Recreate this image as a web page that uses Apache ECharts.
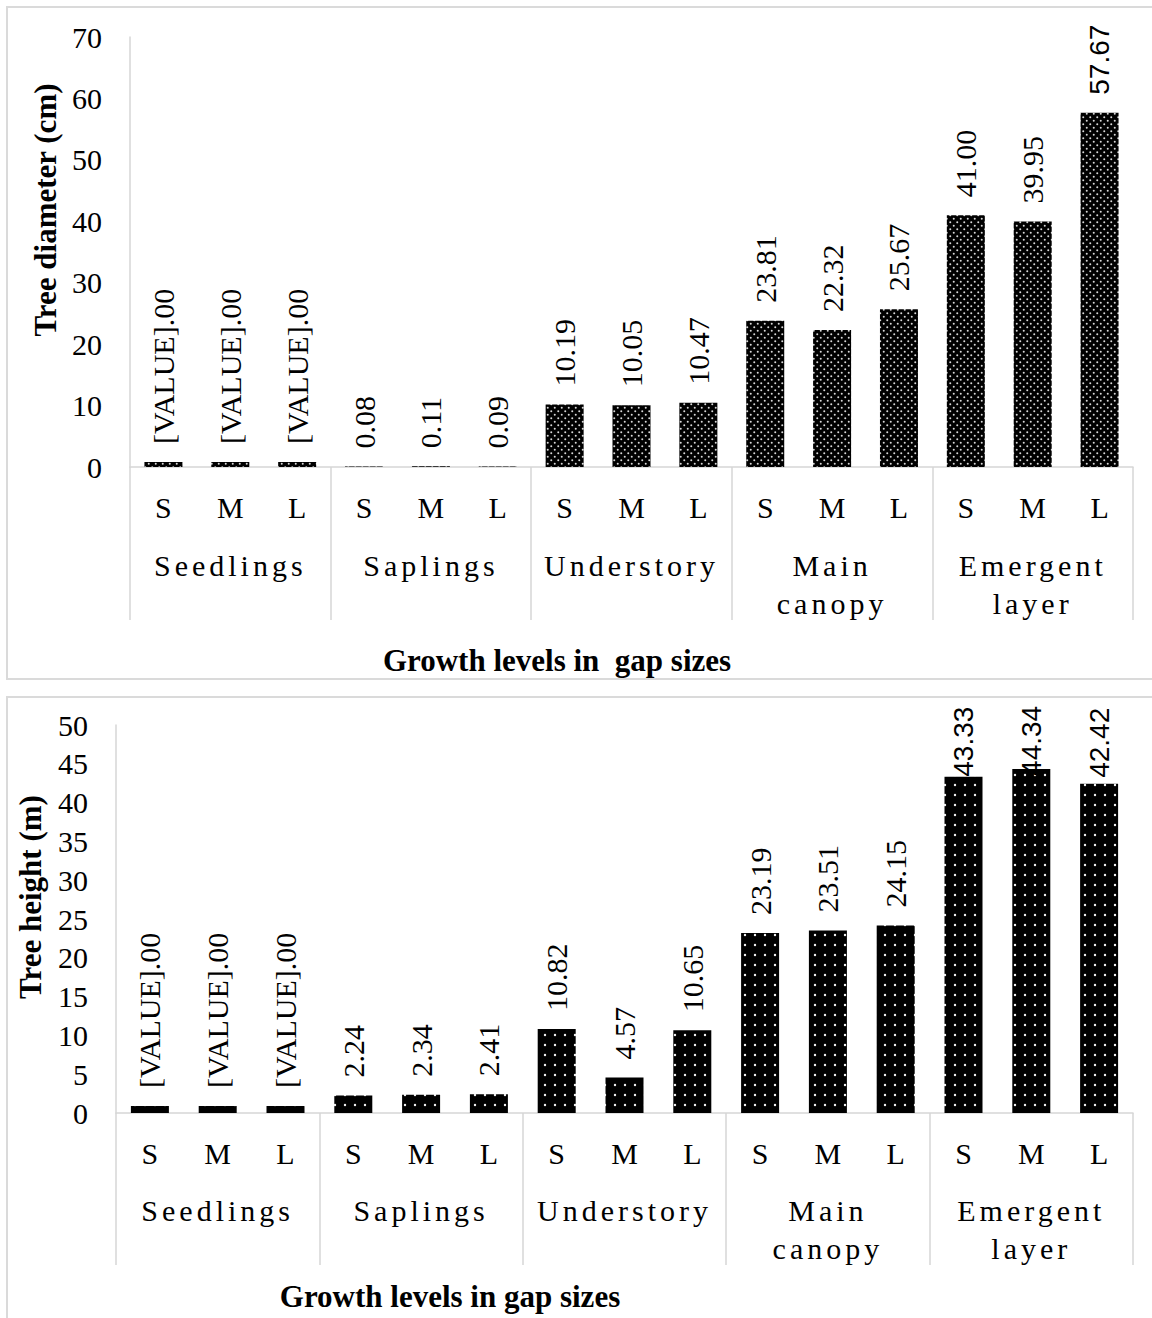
<!DOCTYPE html>
<html>
<head>
<meta charset="utf-8">
<script src="https://cdn.jsdelivr.net/npm/echarts@6/dist/echarts.min.js"></script>
<style>
  html, body { margin: 0; padding: 0; background: #fff; }
  #chart { width: 1152px; height: 1318px; }
</style>
</head>
<body>
<div id="chart"></div>
<script>
// Growth levels (outer categories) and gap sizes (inner categories)
const groups = ['Seedlings', 'Saplings', 'Understory', 'Main\ncanopy', 'Emergent\nlayer'];
const gapSizes = ['S', 'M', 'L'];

// Mean tree diameter (cm), in order S, M, L for each growth level
const diameterValues = [0.8, 0.8, 0.8, 0.08, 0.11, 0.09, 10.19, 10.05, 10.47, 23.81, 22.32, 25.67, 41.00, 39.95, 57.67];
// Mean tree height (m), same order
const heightValues = [0.9, 0.9, 0.9, 2.24, 2.34, 2.41, 10.82, 4.57, 10.65, 23.19, 23.51, 24.15, 43.33, 44.34, 42.42];

// Text printed above the seedling bars (an unresolved field code)
const seedlingLabel = '[VALUE].00';

// Value axis ranges
const diameterAxis = { min: 0, max: 70, interval: 10 };
const heightAxis = { min: 0, max: 50, interval: 5 };

// Axis titles
const diameterTitle = 'Tree diameter (cm)';
const heightTitle = 'Tree height (m)';
const xTitleTop = 'Growth levels in  gap sizes';
const xTitleBottom = 'Growth levels in gap sizes';

const SERIF = '"Liberation Serif", "Times New Roman", serif';
const SANS = '"Liberation Sans", Arial, sans-serif';
const GRID_LINE = '#d6d6d6';

const innerCats = groups.flatMap(() => gapSizes);

// black fill sprinkled with light dots
function dotTile(size, dots, r, color) {
  const c = document.createElement('canvas');
  c.width = size; c.height = size;
  const ctx = c.getContext('2d');
  ctx.fillStyle = '#000';
  ctx.fillRect(0, 0, size, size);
  ctx.fillStyle = color;
  dots.forEach(([x, y]) => { ctx.beginPath(); ctx.arc(x, y, r, 0, Math.PI * 2); ctx.fill(); });
  return { image: c, imageWidth: size, imageHeight: size, repeat: 'repeat' };
}
const densePattern = dotTile(7, [[1.75, 1.75], [5.25, 5.25]], 1.0, '#d8d8d8');
const sparsePattern = dotTile(10, [[5, 5]], 1.2, '#f0f0f0');

// per-bar label tweaks (font / offset)
const diameterLabelStyle = {
  14: { fontFamily: SANS, fontSize: 28 }
};
const heightLabelStyle = {
  12: { fontFamily: SANS, fontSize: 28, distance: 0 },
  13: { fontFamily: SANS, fontSize: 28, distance: -7 },
  14: { fontFamily: SANS, fontSize: 28, distance: 6 }
};

function barData(values, styles) {
  return values.map((v, i) => styles[i] ? { value: v, label: styles[i] } : { value: v });
}

function labelText(p) {
  return Math.floor(p.dataIndex / gapSizes.length) === 0 ? seedlingLabel : p.value.toFixed(2);
}

function xAxes(gridIndex, tickLen, groupMargin) {
  return [
    {
      gridIndex, type: 'category', position: 'bottom', data: innerCats,
      axisLine: { show: true, onZero: false, lineStyle: { color: GRID_LINE, width: 1.5 } },
      axisTick: { show: false },
      axisLabel: { interval: 0, margin: 25, fontFamily: SERIF, fontSize: 30, lineHeight: 30, color: '#000' }
    },
    {
      gridIndex, type: 'category', position: 'bottom', data: groups,
      axisLine: { show: false, onZero: false },
      axisTick: { show: true, interval: 0, length: tickLen, lineStyle: { color: GRID_LINE, width: 1.5 } },
      axisLabel: { interval: 0, margin: groupMargin, fontFamily: SERIF, fontSize: 30, lineHeight: 38, color: '#000' }
    }
  ];
}

function yAxis(gridIndex, range, name, gap, shift) {
  return {
    gridIndex, type: 'value', min: range.min, max: range.max, interval: range.interval,
    name, nameLocation: 'middle', nameGap: gap, nameRotate: 90,
    nameTextStyle: { fontFamily: SERIF, fontSize: 31, fontWeight: 'bold', color: '#000', padding: [0, 0, 0, shift] },
    axisLine: { show: true, lineStyle: { color: GRID_LINE, width: 1.5 } },
    axisTick: { show: false },
    splitLine: { show: false },
    axisLabel: { margin: 28, fontFamily: SERIF, fontSize: 30, color: '#000' }
  };
}

function barSeries(axisIdx, values, styles, pattern) {
  return {
    type: 'bar', xAxisIndex: axisIdx, yAxisIndex: axisIdx / 2,
    data: barData(values, styles), barWidth: 38,
    itemStyle: { color: pattern },
    label: {
      show: true, position: 'top', rotate: 90, align: 'left', verticalAlign: 'middle',
      distance: 18, fontFamily: SERIF, fontSize: 30, color: '#000', formatter: labelText
    }
  };
}

const chart = echarts.init(document.getElementById('chart'), null, { renderer: 'svg' });

chart.setOption({
  animation: false,
  backgroundColor: '#fff',
  graphic: [
    { type: 'rect', z: -10, shape: { x: 7, y: 7, width: 1170, height: 672 }, style: { fill: 'none', stroke: '#dadada', lineWidth: 2 } },
    { type: 'rect', z: -10, shape: { x: 7, y: 697, width: 1170, height: 660 }, style: { fill: 'none', stroke: '#dadada', lineWidth: 2 } }
  ],
  title: [
    { text: xTitleTop, left: 557, top: 645, textAlign: 'center', padding: 0,
      textStyle: { fontFamily: SERIF, fontSize: 31, fontWeight: 'bold', color: '#000' } },
    { text: xTitleBottom, left: 450, top: 1281, textAlign: 'center', padding: 0,
      textStyle: { fontFamily: SERIF, fontSize: 31, fontWeight: 'bold', color: '#000' } }
  ],
  grid: [
    { left: 130, top: 37, width: 1003, height: 430, containLabel: false },
    { left: 116, top: 725, width: 1017, height: 388, containLabel: false }
  ],
  xAxis: [...xAxes(0, 153, 79), ...xAxes(1, 152, 78)],
  yAxis: [
    yAxis(0, diameterAxis, diameterTitle, 69, 84),
    yAxis(1, heightAxis, heightTitle, 70, 44)
  ],
  series: [
    barSeries(0, diameterValues, diameterLabelStyle, densePattern),
    barSeries(2, heightValues, heightLabelStyle, sparsePattern)
  ]
});

// widen the tracking of the growth-level names
const spacedWords = new Set(groups.flatMap(g => g.split('\n')));
function spaceGroupNames() {
  chart.getDom().querySelectorAll('text').forEach(t => {
    if (spacedWords.has(t.textContent.trim())) t.setAttribute('letter-spacing', '4');
  });
}
chart.on('finished', spaceGroupNames);
spaceGroupNames();
</script>
</body>
</html>
